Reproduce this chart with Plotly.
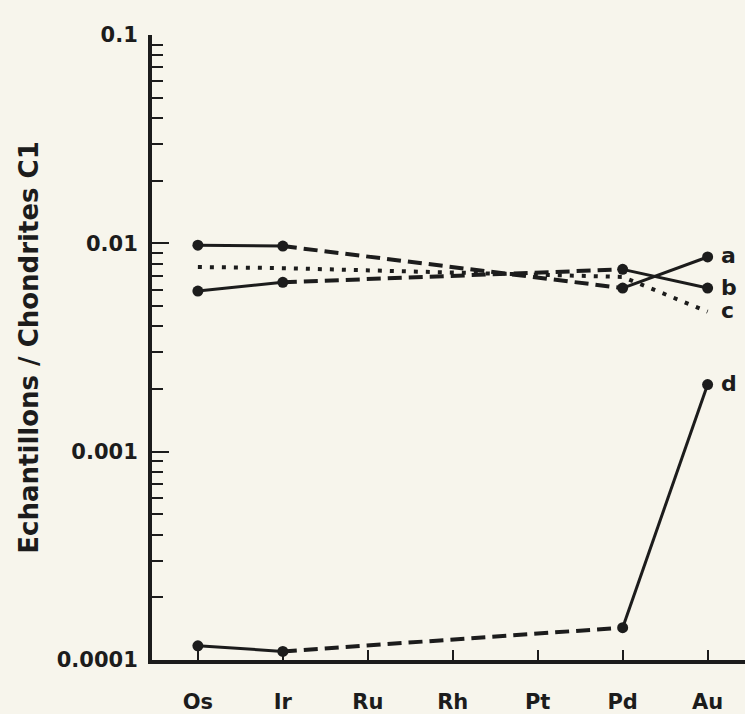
import math
import plotly.graph_objects as go

# ---- data ----
categories = ["Os", "Ir", "Ru", "Rh", "Pt", "Pd", "Au"]
series_a = [0.0098, 0.0097, None, None, None, 0.0061, 0.0086]
series_b = [0.0059, 0.0065, None, None, None, 0.0075, 0.0061]
series_c = [0.0077, 0.0076, None, None, None, 0.0069, 0.0047]
series_d = [0.000117, 0.000110, None, None, None, 0.000143, 0.0021]
series_names = ["a", "b", "c", "d"]
y_major_ticks = [0.0001, 0.001, 0.01, 0.1]
y_major_labels = ["0.0001", "0.001", "0.01", "0.1"]
y_minor_ticks = [m * 10 ** e for e in (-4, -3, -2) for m in range(2, 10)]

INK = "#1c1c1c"
BG = "#f7f5ec"
FONT = "DejaVu Sans"

fig = go.Figure()


def add_series(values, name, dotted=False):
    pts = [(categories[i], v, i) for i, v in enumerate(values) if v is not None]
    if dotted:
        fig.add_trace(go.Scatter(
            x=[p[0] for p in pts], y=[p[1] for p in pts], mode="lines",
            line=dict(color=INK, width=4, dash="4px,8px"),
            showlegend=False, hoverinfo="skip", name=name))
        return
    for (x0, y0, i0), (x1, y1, i1) in zip(pts[:-1], pts[1:]):
        gap = (i1 - i0) > 1
        fig.add_trace(go.Scatter(
            x=[x0, x1], y=[y0, y1], mode="lines",
            line=dict(color=INK, width=4 if gap else 3,
                      dash="14px,7px" if gap else "solid"),
            showlegend=False, hoverinfo="skip", name=name))
    fig.add_trace(go.Scatter(
        x=[p[0] for p in pts], y=[p[1] for p in pts], mode="markers",
        marker=dict(color=INK, size=11, line=dict(width=0)),
        showlegend=False, name=name))


all_series = [series_a, series_b, series_c, series_d]
last_idx = len(categories) - 1
for vals, nm in zip(all_series, series_names):
    add_series(vals, nm, dotted=(nm == "c"))
    # annotations on a log axis take log10 coordinates
    fig.add_annotation(x=last_idx, y=math.log10(vals[-1]), text=nm, showarrow=False,
                       xref="x", yref="y",
                       xanchor="left", yanchor="middle", xshift=11, yshift=1,
                       font=dict(family=FONT, size=22, color=INK, weight="bold"))

fig.update_layout(
    width=745, height=714,
    margin=dict(l=152, r=0, t=35, b=54),
    paper_bgcolor=BG, plot_bgcolor=BG,
    font=dict(family=FONT, color=INK),
    showlegend=False,
)

fig.update_xaxes(
    type="category", categoryorder="array", categoryarray=categories,
    range=[-0.54, 6.44],
    showline=True, linewidth=4, linecolor=INK,
    showgrid=False, zeroline=False,
    ticks="inside", ticklen=10, tickwidth=2, tickcolor=INK,
    ticklabelstandoff=20,
    tickfont=dict(family=FONT, size=21, color=INK, weight="bold"),
)

fig.update_yaxes(
    type="log", range=[-4, -1],
    showline=True, linewidth=4, linecolor=INK,
    showgrid=False, zeroline=False,
    tickmode="array", tickvals=y_major_ticks, ticktext=y_major_labels,
    ticks="inside", ticklen=17, tickwidth=2, tickcolor=INK,
    ticklabelstandoff=6,
    tickfont=dict(family=FONT, size=21, color=INK, weight="bold"),
    minor=dict(tickmode="array", tickvals=y_minor_ticks, ticks="inside",
               ticklen=11, tickwidth=2, tickcolor=INK, showgrid=False),
    title=dict(text="Echantillons / Chondrites C1", standoff=12,
               font=dict(family=FONT, size=26, color=INK, weight="bold")),
)

fig.write_html(
    "out.html",
    config={"displayModeBar": False},
    post_script="document.body.style.margin='0';document.body.style.overflow='hidden';"
                "document.body.style.background='" + BG + "';",
)
